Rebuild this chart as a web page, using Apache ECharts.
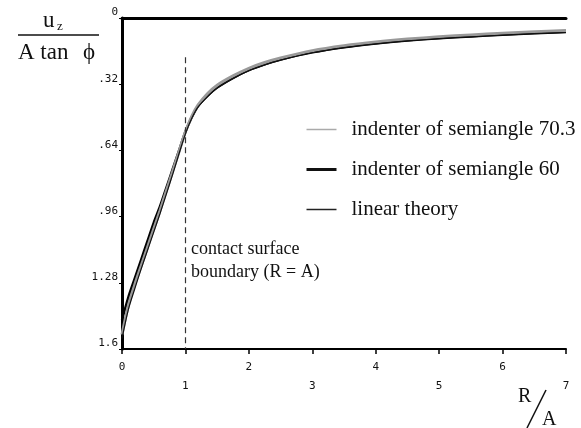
<!DOCTYPE html>
<html>
<head>
<meta charset="utf-8">
<script src="https://cdn.jsdelivr.net/npm/echarts@6/dist/echarts.min.js"></script>
<style>
  html, body { margin: 0; padding: 0; background: #fff; }
  #chart { width: 581px; height: 428px; }
</style>
</head>
<body>
<div id="chart"></div>
<script>
// R/A positions
var xs = [0, 0.1, 0.2, 0.3, 0.4, 0.5, 0.6, 0.7, 0.8, 0.9, 1.0, 1.1, 1.2, 1.35, 1.5, 1.75, 2, 2.25, 2.5, 3, 3.5, 4, 4.5, 5, 5.5, 6, 6.5, 7];

// u_z / (A tan phi)
var semi703 = [1.53, 1.39, 1.29, 1.20, 1.11, 1.02, 0.93, 0.835, 0.74, 0.645, 0.55, 0.475, 0.42, 0.365, 0.325, 0.28, 0.243, 0.215, 0.193, 0.158, 0.134, 0.116, 0.102, 0.091, 0.082, 0.074, 0.067, 0.061];
var semi60  = [1.46, 1.35, 1.26, 1.17, 1.08, 0.99, 0.91, 0.82, 0.73, 0.64, 0.55, 0.48, 0.425, 0.375, 0.335, 0.29, 0.252, 0.224, 0.201, 0.166, 0.141, 0.123, 0.109, 0.098, 0.089, 0.081, 0.074, 0.068];
var linear  = [1.55, 1.41, 1.31, 1.215, 1.125, 1.035, 0.945, 0.85, 0.755, 0.655, 0.56, 0.485, 0.43, 0.38, 0.34, 0.293, 0.255, 0.227, 0.204, 0.168, 0.143, 0.125, 0.111, 0.100, 0.091, 0.083, 0.076, 0.070];

var yTicks = ['0', '.32', '.64', '.96', '1.28', '1.6'];
var seriesNames = ['indenter of semiangle 70.3', 'indenter of semiangle 60', 'linear theory'];

var pairs = function(ys) {
    return xs.map(function(x, i) { return [x, ys[i]]; });
};

var myChart = echarts.init(document.getElementById('chart'));

var option = {
    animation: false,
    grid: { left: 122, right: 15, top: 18, bottom: 79 },
    legend: {
        orient: 'vertical',
        left: 300,
        top: 114,
        itemWidth: 30,
        itemHeight: 14,
        itemGap: 19,
        itemStyle: { opacity: 0 },
        textStyle: { fontFamily: 'Liberation Serif', fontSize: 21, color: '#111', padding: [0, 0, 0, 10] },
        data: [
            { name: seriesNames[0], lineStyle: { width: 1.5, color: '#aaa' } },
            { name: seriesNames[1], lineStyle: { width: 3, color: '#111' } },
            { name: seriesNames[2], lineStyle: { width: 1.5, color: '#222' } }
        ]
    },
    xAxis: [{
        type: 'value',
        min: 0, max: 7, interval: 1,
        splitLine: { show: false },
        axisLine: { onZero: false, lineStyle: { color: '#000', width: 2 } },
        axisTick: { length: 5, lineStyle: { color: '#000', width: 1.5 } },
        axisLabel: {
            margin: 9,
            fontFamily: 'DejaVu Sans Mono',
            fontSize: 11,
            color: '#111',
            lineHeight: 19,
            formatter: function(v) { return v % 2 ? '\n' + v : '' + v; }
        }
    }, {
        type: 'value',
        position: 'top',
        min: 0, max: 7,
        splitLine: { show: false },
        axisLine: { onZero: false, lineStyle: { color: '#000', width: 3 } },
        axisTick: { show: false },
        axisLabel: { show: false }
    }],
    yAxis: {
        type: 'value',
        inverse: true,
        min: 0, max: 1.6, interval: 0.32,
        splitLine: { show: false },
        axisLine: { onZero: false, lineStyle: { color: '#000', width: 3 } },
        axisTick: { length: 3, lineStyle: { color: '#000' } },
        axisLabel: {
            margin: 4,
            fontFamily: 'DejaVu Sans Mono',
            fontSize: 11,
            color: '#111',
            verticalAlign: 'bottom',
            formatter: function(v) { return yTicks[Math.round(v / 0.32)]; }
        }
    },
    graphic: [
        { type: 'text', left: 43, top: 9, style: { text: 'u', font: '23px "Liberation Serif"', fill: '#111' } },
        { type: 'text', left: 57, top: 20, style: { text: 'z', font: '13px "Liberation Serif"', fill: '#111' } },
        { type: 'line', shape: { x1: 18, y1: 35, x2: 99, y2: 35 }, style: { stroke: '#111', lineWidth: 1.5 } },
        { type: 'text', left: 18, top: 41, style: { text: 'A tan', font: '23px "Liberation Serif"', fill: '#111' } },
        { type: 'text', left: 83, top: 41, style: { text: '\u03d5', font: '23px "Liberation Serif"', fill: '#111' } },
        { type: 'text', left: 191, top: 238, style: { text: 'contact surface\nboundary (R = A)', font: '18px "Liberation Serif"', lineHeight: 23, fill: '#111' } },
        { type: 'text', left: 518, top: 387, style: { text: 'R', font: '20px "Liberation Serif"', fill: '#111' } },
        { type: 'line', shape: { x1: 527, y1: 428, x2: 546, y2: 390 }, style: { stroke: '#111', lineWidth: 1.5 } },
        { type: 'text', left: 542, top: 410, style: { text: 'A', font: '20px "Liberation Serif"', fill: '#111' } }
    ],
    series: [
        {
            name: seriesNames[0],
            type: 'line',
            symbol: 'none',
            smooth: 0.3,
            z: 3,
            lineStyle: { color: '#9a9a9a', width: 3 },
            itemStyle: { color: '#9a9a9a' },
            data: pairs(semi703),
            markLine: {
                silent: true,
                symbol: 'none',
                label: { show: false },
                lineStyle: { color: '#333', type: [6, 4], width: 1.2 },
                data: [[{ coord: [1, 0.19] }, { coord: [1, 1.6] }]]
            }
        },
        {
            name: seriesNames[1],
            type: 'line',
            symbol: 'none',
            smooth: 0.3,
            z: 2,
            lineStyle: { color: '#000', width: 2.5 },
            itemStyle: { color: '#000' },
            data: pairs(semi60)
        },
        {
            name: seriesNames[2],
            type: 'line',
            symbol: 'none',
            smooth: 0.3,
            z: 4,
            lineStyle: { color: '#111', width: 1.2 },
            itemStyle: { color: '#111' },
            data: pairs(linear)
        }
    ]
};

myChart.setOption(option, true);
</script>
</body>
</html>
